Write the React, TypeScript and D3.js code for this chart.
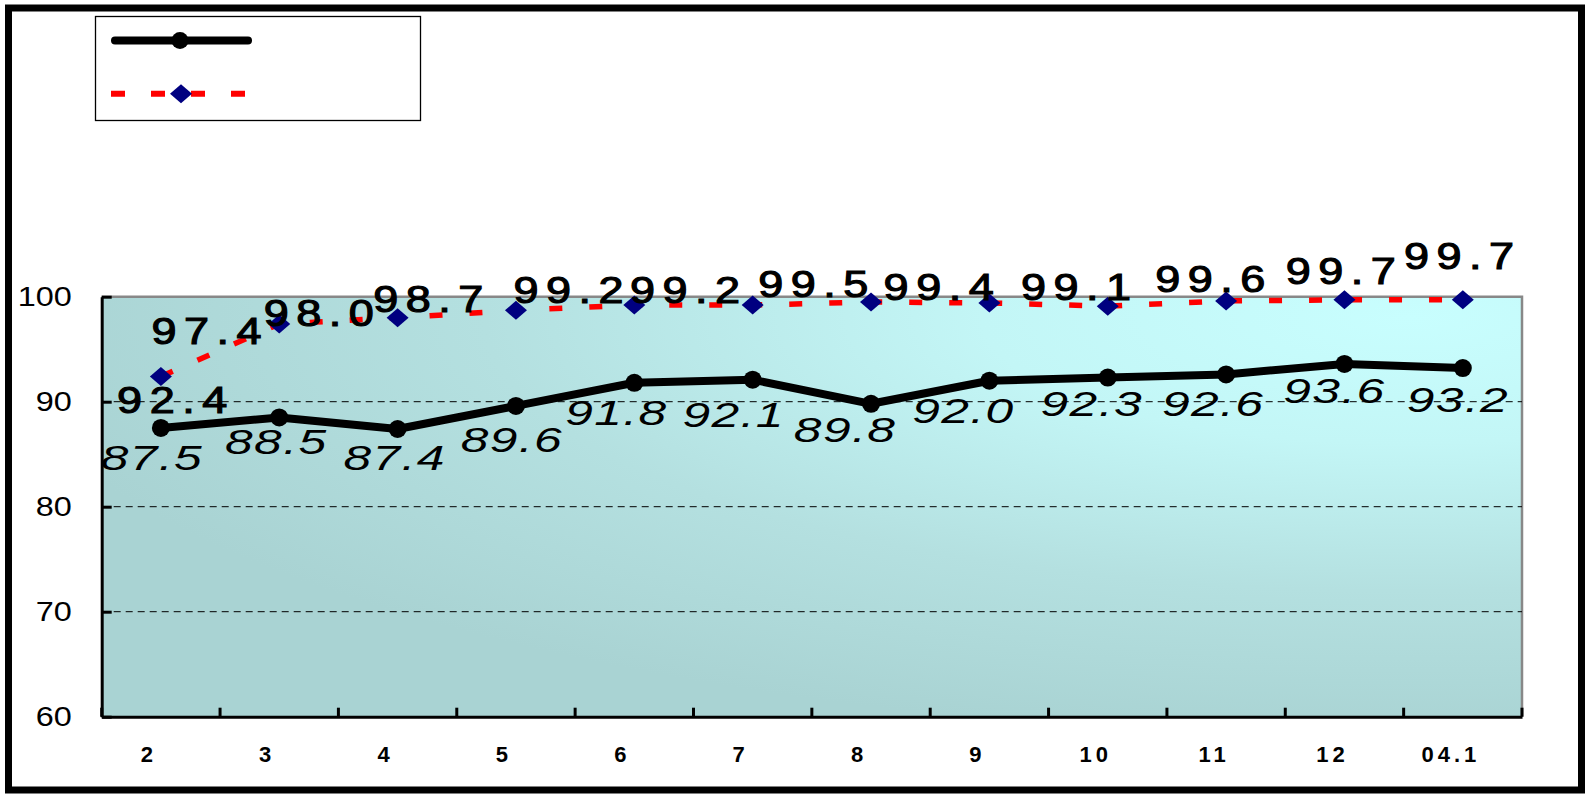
import React, { useEffect, useRef } from "react";
import * as d3 from "d3";

// ---- data ----
const categories = ["2", "3", "4", "5", "6", "7", "8", "9", "10", "11", "12", "04.1"];
const seriesBlack = [87.5, 88.5, 87.4, 89.6, 91.8, 92.1, 89.8, 92.0, 92.3, 92.6, 93.6, 93.2];
const seriesRed = [92.4, 97.4, 98.0, 98.7, 99.2, 99.2, 99.5, 99.4, 99.1, 99.6, 99.7, 99.7];
const yTicks = [60, 70, 80, 90, 100];
const gridTicks = [70, 80, 90];

// label offsets (layout, relative to each point)
const redLabelDx = [11, -73, -79, -88, -66, -68, -58, -51, -32, -16, -4, -4];
const redLabelDy = [36, 20, 8, 2, -2, -2, -5, -3, -6, -9, -16, -31];
const blackLabelDx = [-9, -3, -3, -4, -18, -19, -26, -26, -16, -13, -10, -5];
const blackLabelDy = [42, 37, 41, 46, 42, 47, 38, 42, 38, 42, 39, 44];

const W = 1591;
const H = 795;
const plot = { left: 101.7, right: 1522, top: 296.7, bottom: 716.7 };
const FONT = "'Liberation Sans', Arial, Helvetica, sans-serif";

export default function App() {
  const yRef = useRef<SVGGElement>(null);
  const xRef = useRef<SVGGElement>(null);

  const x = d3.scaleBand<string>().domain(categories).range([plot.left, plot.right]).padding(0);
  const y = d3.scaleLinear().domain([60, 100]).range([plot.bottom, plot.top]);
  const cx = (c: string) => (x(c) as number) + x.bandwidth() / 2;

  const line = d3
    .line<number>()
    .x((_, i) => cx(categories[i]))
    .y((d) => y(d));

  useEffect(() => {
    const gy = d3.select(yRef.current as SVGGElement);
    gy.selectAll("*").remove();
    gy.call(
      d3.axisLeft(y).tickValues(yTicks).tickSizeInner(-10).tickSizeOuter(0).tickPadding(25).tickFormat(d3.format("d"))
    );
    gy.select(".domain").attr("stroke", "#000").attr("stroke-width", 3);
    gy.selectAll(".tick line").attr("stroke", "#000").attr("stroke-width", 3);
    gy.selectAll(".tick text")
      .attr("font-size", 27)
      .attr("font-family", FONT)
      .attr("fill", "#000")
      .attr("transform", "scale(1.2,1)");

    const gx = d3.select(xRef.current as SVGGElement);
    gx.selectAll("*").remove();
    gx.call(d3.axisBottom(x).tickSize(0).tickPadding(30));
    gx.select(".domain").attr("stroke", "#000").attr("stroke-width", 3);
    gx.selectAll(".tick text")
      .attr("font-size", 22)
      .attr("font-weight", "bold")
      .attr("font-family", FONT)
      .attr("letter-spacing", 4)
      .attr("dx", -12)
      .attr("fill", "#000");
  }, []);

  const boundaries = d3.range(categories.length + 1).map((i) => plot.left + i * x.step());

  const diamond = (px: number, py: number, hw: number, hh: number) =>
    `M${px},${py - hh}L${px + hw},${py}L${px},${py + hh}L${px - hw},${py}Z`;

  return (
    <svg
      width={W}
      height={H}
      style={{ position: "absolute", left: 0, top: 0, background: "#fff" }}
      xmlns="http://www.w3.org/2000/svg"
    >
      <defs>
        <radialGradient id="plotBg" cx="0.92" cy="0.05" r="1.0" fx="0.92" fy="0.05">
          <stop offset="0" stopColor="#c8fefe" />
          <stop offset="0.3" stopColor="#c3f6f6" />
          <stop offset="0.65" stopColor="#b4e0e0" />
          <stop offset="1" stopColor="#a9d3d3" />
        </radialGradient>
      </defs>

      {/* outer frame */}
      <rect x={8.5} y={8} width={1573} height={782} fill="#fff" stroke="#000" strokeWidth={7} />

      {/* plot area */}
      <rect
        x={plot.left}
        y={plot.top}
        width={plot.right - plot.left}
        height={plot.bottom - plot.top}
        fill="url(#plotBg)"
      />
      <path
        d={`M${plot.left},${plot.top}H${plot.right}V${plot.bottom}`}
        fill="none"
        stroke="#888"
        strokeWidth={2.5}
      />

      {/* gridlines */}
      {gridTicks.map((t) => (
        <line
          key={t}
          x1={plot.left}
          x2={plot.right}
          y1={y(t)}
          y2={y(t)}
          stroke="#000"
          strokeWidth={1}
          strokeDasharray="7 5"
        />
      ))}

      {/* axes */}
      <g ref={yRef} transform={`translate(${plot.left},0)`} />
      <g ref={xRef} transform={`translate(0,${plot.bottom})`} />
      {boundaries.map((bx, i) => (
        <line key={i} x1={bx} x2={bx} y1={plot.bottom} y2={plot.bottom - 9} stroke="#000" strokeWidth={3} />
      ))}

      {/* red dashed series */}
      <path
        d={line(seriesRed) || ""}
        fill="none"
        stroke="#ff0000"
        strokeWidth={5.5}
        strokeDasharray="13 27"
      />
      {seriesRed.map((v, i) => (
        <path key={i} d={diamond(cx(categories[i]), y(v), 11, 9.5)} fill="#000080" />
      ))}

      {/* black series */}
      <path
        d={line(seriesBlack) || ""}
        fill="none"
        stroke="#000"
        strokeWidth={8}
        strokeLinejoin="round"
      />
      {seriesBlack.map((v, i) => (
        <circle key={i} cx={cx(categories[i])} cy={y(v)} r={9} fill="#000" />
      ))}

      {/* red labels */}
      {seriesRed.map((v, i) => (
        <text
          key={i}
          transform={`translate(${cx(categories[i]) + redLabelDx[i] + 4},${y(v) + redLabelDy[i]}) scale(1.25,1)`}
          textAnchor="middle"
          fontFamily={FONT}
          fontSize={36}
          letterSpacing={6}
          fill="#000"
          stroke="#000"
          strokeWidth={1.1}
        >
          {v.toFixed(1)}
        </text>
      ))}

      {/* black labels */}
      {seriesBlack.map((v, i) => (
        <text
          key={i}
          transform={`translate(${cx(categories[i]) + blackLabelDx[i]},${y(v) + blackLabelDy[i]}) scale(1.42,1)`}
          textAnchor="middle"
          fontFamily={FONT}
          fontStyle="italic"
          fontSize={35}
          letterSpacing={1}
          fill="#000"
        >
          {v.toFixed(1)}
        </text>
      ))}

      {/* legend */}
      <rect x={95.5} y={16.5} width={325} height={104} fill="#fff" stroke="#000" strokeWidth={1.3} />
      <line x1={115} x2={248} y1={40.5} y2={40.5} stroke="#000" strokeWidth={8} strokeLinecap="round" />
      <circle cx={180} cy={40.5} r={8.5} fill="#000" />
      <line x1={111} x2={248} y1={93.7} y2={93.7} stroke="#ff0000" strokeWidth={6} strokeDasharray="14 26" />
      <path d={diamond(181, 93.7, 11, 9.5)} fill="#000080" />
    </svg>
  );
}
